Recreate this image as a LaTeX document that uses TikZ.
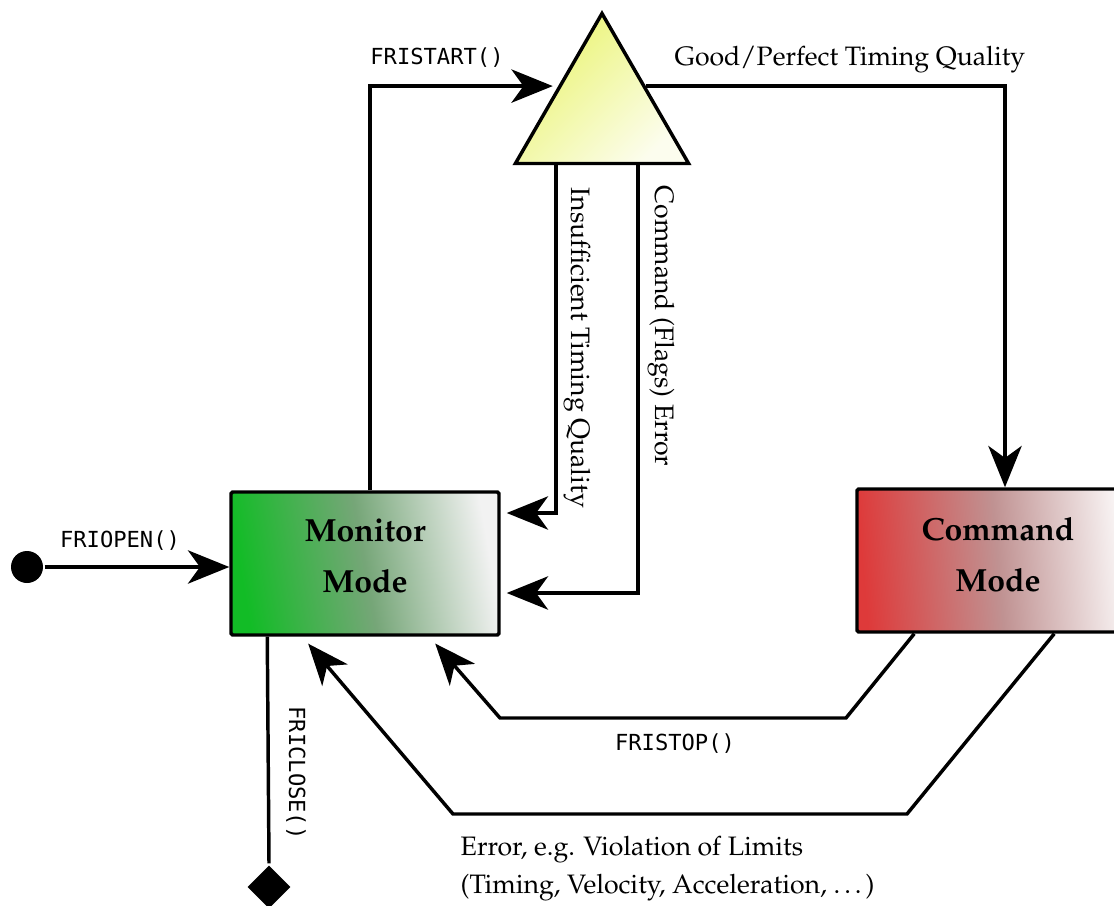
\documentclass[tikz,border=0pt]{standalone}
\usepackage[T1]{fontenc}
\usepackage{fontspec}
\newfontfamily\monofont{DejaVu Sans Mono}
\newcommand\palfont{\fontencoding{T1}\fontfamily{ppl}\selectfont}
\usetikzlibrary{arrows.meta,shapes.geometric,calc}

\definecolor{mongreen}{RGB}{18,188,38}
\definecolor{monmid}{RGB}{118,166,120}
\definecolor{monend}{RGB}{242,242,242}
\definecolor{cmdred}{RGB}{222,58,58}
\definecolor{cmdmid}{RGB}{192,146,146}
\definecolor{cmdend}{RGB}{255,255,255}
\definecolor{triyellow}{RGB}{234,244,112}
\definecolor{triwhite}{RGB}{252,253,238}

\begin{document}
\begin{tikzpicture}[x=0.375pt,y=-0.375pt,
  line width=1.3pt,
  arr/.style={-{Stealth[length=15.5pt,width=12.5pt,inset=4.5pt]}},
  statebox/.style={rectangle,draw,line width=1.3pt,inner sep=0pt,rounded corners=0.6pt},
  boxtext/.style={font=\palfont\bfseries\fontsize{12}{19}\selectfont,align=center,inner sep=0pt},
  lbl/.style={font=\palfont\fontsize{10}{14.25}\selectfont,inner sep=0pt},
  code/.style={font=\monofont\fontsize{8.3}{10}\selectfont,inner sep=0pt},
]
\useasboundingbox (0,0) rectangle (1114,906);
\clip (0,0) rectangle (1114,906);

% states
\node[statebox, minimum width=268*0.375pt, minimum height=143*0.375pt,
      left color=mongreen, right color=monend, middle color=monmid, shading angle=100]
      (mon) at (365,563.5) {};
\node[boxtext] (monlbl) at (365,556) {Monitor\\Mode};

\node[statebox, minimum width=282*0.375pt, minimum height=143*0.375pt,
      left color=cmdred, right color=cmdend, middle color=cmdmid, shading angle=95]
      (cmd) at (998,560.5) {};
\node[boxtext] (cmdlbl) at (998,554.5) {Command\\Mode};

% decision triangle
\node[regular polygon, regular polygon sides=3, minimum size=200*0.375pt, draw,
      inner sep=0pt, top color=triyellow, bottom color=triwhite, shading angle=45]
      (tri) at (602,113.5) {};

% initial and final markers
\node[circle, fill, inner sep=0pt, minimum size=32*0.375pt] (start) at (27,567) {};
\node[diamond, fill, inner sep=0pt, minimum size=44*0.375pt] (stop) at (269,887) {};

% points on the triangle border
\coordinate (tL) at ($(tri.corner 1)!0.49!(tri.corner 2)$);
\coordinate (tR) at ($(tri.corner 1)!0.49!(tri.corner 3)$);
\coordinate (bA) at ($(tri.corner 2)!0.243!(tri.corner 3)$);
\coordinate (bB) at ($(tri.corner 2)!0.70!(tri.corner 3)$);

% transitions
\draw[arr] (start) -- (start -| mon.west);
\draw[arr, shorten >=2pt] ($(mon.north)+(5,0)$) |- (tL);
\draw[arr] (tR) -| ($(cmd.north)+(7,0)$);
\draw[arr] (bA) |- ($(mon.east)+(6,-50.5)$);
\draw[arr] (bB) |- ($(mon.east)+(6,29.5)$);
\draw[arr, shorten >=3.4pt] ($(cmd.south west)+(59,0)$) -- (846,718) -- (500,718)
      -- ($(mon.south west)+(200,0)$);
\draw[arr, shorten >=3.4pt] ($(cmd.south west)+(199,0)$) -- (907,814) -- (453,814)
      -- ($(mon.south west)+(73,0)$);
\draw ($(mon.south west)+(38,0)$) -- (stop.north);

% transition labels
\node[code] (lopen) at (120,541) {FRIOPEN()};
\node[code] (lstart) at (437,58) {FRISTART()};
\node[lbl] (lgood) at (850,60) {Good/Perfect Timing Quality};
\node[lbl, rotate=-90] (lins) at (577,348) {Insufficient Timing Quality};
\node[lbl, rotate=-90] (lflag) at (661,326) {Command (Flags) Error};
\node[code] (lstop) at (675,744) {FRISTOP()};
\node[lbl, align=left, anchor=north west] (lerr) at (459,834)
      {Error, e.g. Violation of Limits\\(Timing, Velocity, Acceleration, \ldots)};
\node[code, rotate=-90] (lclose) at (296,773) {FRICLOSE()};
\end{tikzpicture}
\end{document}
